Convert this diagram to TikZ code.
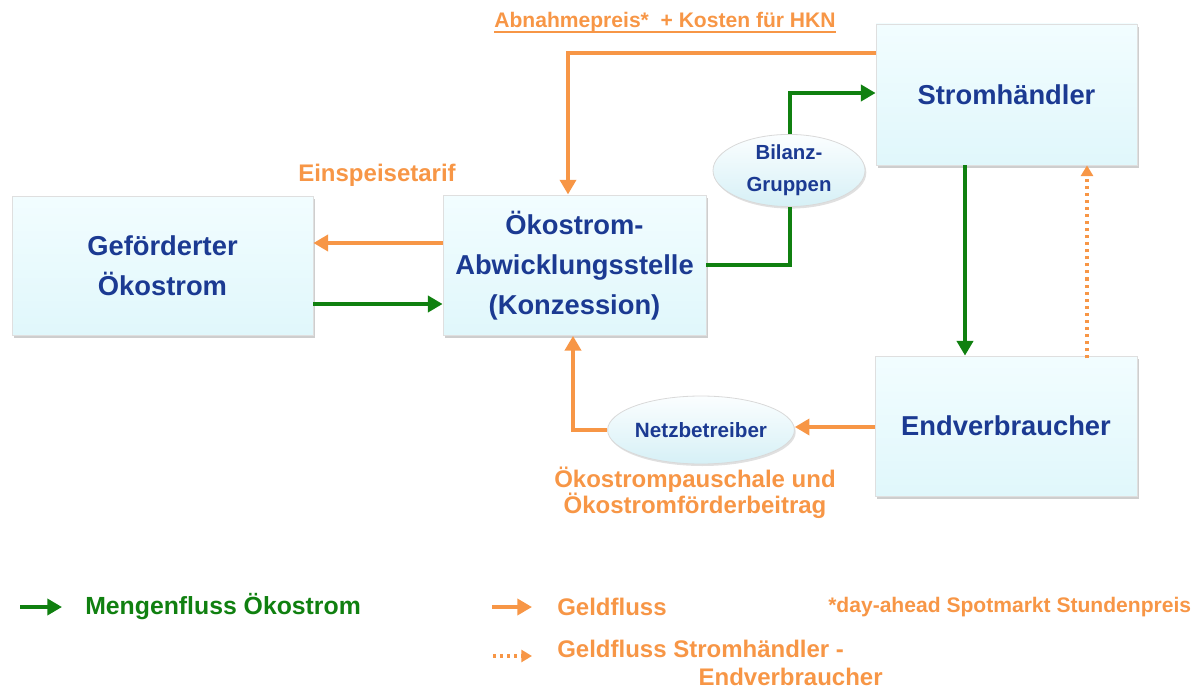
\documentclass[tikz,border=0pt]{standalone}
\usepackage{fontspec}
\setmainfont{Liberation Sans}
\usetikzlibrary{arrows.meta,shadows,shapes.geometric}
\definecolor{navy}{HTML}{1B3A92}
\definecolor{orng}{HTML}{F79646}
\definecolor{grn}{HTML}{108010}
\definecolor{boxtop}{HTML}{F2FDFF}
\definecolor{boxbot}{HTML}{E0F7FB}
\definecolor{elltop}{HTML}{FBFEFF}
\definecolor{ellbot}{HTML}{D6F0F6}
\begin{document}
\begin{tikzpicture}[x=0.75pt,y=-0.75pt,
  box/.style={rectangle, draw=gray!25, line width=0.6pt, top color=boxtop, bottom color=boxbot,
    drop shadow={shadow xshift=1.8pt, shadow yshift=-2.2pt, fill=gray!70, opacity=0.55},
    font=\bfseries\fontsize{20.5}{30}\selectfont, text=navy, align=center, inner sep=0pt},
  ell/.style={ellipse, draw=gray!30, line width=0.6pt, top color=elltop, bottom color=ellbot,
    drop shadow={shadow xshift=1pt, shadow yshift=-1.5pt, fill=gray!60, opacity=0.4},
    text=navy, align=center, inner sep=0pt},
  mflow/.style={draw=grn, line width=3.2pt, -{Triangle[length=11pt,width=12pt]}},
  gflow/.style={draw=orng, line width=3.2pt, -{Triangle[length=11pt,width=12pt]}},
  dflow/.style={draw=orng, line width=2.3pt, dash pattern=on 2.3pt off 3pt, -{Triangle[length=8pt,width=9pt]}},
  lbl/.style={text=orng, font=\bfseries\fontsize{18}{19.5}\selectfont, align=center, inner sep=0pt},
  leg/.style={font=\bfseries\fontsize{18}{21}\selectfont, align=left, inner sep=0pt, anchor=west}
]
\useasboundingbox (0,0) rectangle (1199,692);

% boxes
\node[box, minimum width=225.75pt, minimum height=104.25pt] (gef) at (162.5,265.5) {Geförderter\\ Ökostrom};
\node[box, minimum width=197.25pt, minimum height=105pt] (abw) at (574.5,265.5) {Ökostrom-\\Abwicklungsstelle\\(Konzession)};
\node[box, minimum width=195.75pt, minimum height=105.75pt] (sh) at (1006.5,94.5) {Stromhändler};
\node[box, minimum width=196.5pt, minimum height=105pt] (ev) at (1006,426) {Endverbraucher};

% ellipses
\node[ell, minimum width=114pt, minimum height=53pt, font=\bfseries\fontsize{15.3}{24}\selectfont] (bil) at (789,170.5) {Bilanz-\\Gruppen};
\node[ell, minimum width=115pt, minimum height=51pt, font=\bfseries\fontsize{15.5}{18}\selectfont] (netz) at (701,430) {Netzbetreiber};

% bend coordinates
\coordinate (c1) at (568,53);
\coordinate (c2) at (790,93);
\coordinate (c3) at (790,265);
\coordinate (c4) at (573,429);
\coordinate (c5) at (0,243);
\coordinate (c6) at (0,304);
\coordinate (c7) at (965,0);
\coordinate (c8) at (1087,0);
\coordinate (c9) at (0,427);

% connectors
\draw[gflow] (sh.west |- c1) -| ([yshift=0.5pt]abw.north -| c1);
\draw[mflow] (bil.north -| c2) |- (sh.west |- c2);
\draw[mflow, -] (abw.east |- c3) -| (bil.south -| c3);
\draw[gflow] (abw.west |- c5) -- (gef.east |- c5);
\draw[mflow] (gef.east |- c6) -- (abw.west |- c6);
\draw[mflow] (sh.south -| c7) -- (ev.north -| c7);
\draw[dflow] ([yshift=-2pt]ev.north -| c8) -- (sh.south -| c8);
\draw[gflow] (ev.west |- c9) -- (netz.east |- c9);
\draw[gflow] (netz.west) -| (abw.south -| c4);

% labels
\node[lbl, font=\bfseries\fontsize{15.8}{18}\selectfont, anchor=base] (abn) at (665,28) {Abnahmepreis*\ \ + Kosten für HKN};
\coordinate (ul) at (0,32);
\draw[orng, line width=1.4pt] (abn.west |- ul) -- (abn.east |- ul);
\node[lbl] (ein) at (377,175) {Einspeisetarif};
\node[lbl] (pau) at (695,493) {Ökostrompauschale und\\Ökostromförderbeitrag};

% legend
\coordinate (l1a) at (20,607);
\coordinate (l1b) at (62,607);
\draw[mflow] (l1a) -- (l1b);
\node[leg, text=grn, font=\bfseries\fontsize{18.6}{21}\selectfont] (lm) at (85,607) {Mengenfluss Ökostrom};
\coordinate (l2a) at (492,607);
\coordinate (l2b) at (532,607);
\draw[gflow] (l2a) -- (l2b);
\node[leg, text=orng] (lg) at (557,607) {Geldfluss};
\coordinate (l3a) at (493,656);
\coordinate (l3b) at (532,656);
\draw[dflow] (l3a) -- (l3b);
\node[leg, text=orng, anchor=north west] (ld) at (557,640) {Geldfluss Stromhändler -\\\hspace*{106pt}Endverbraucher};
\node[leg, text=orng, font=\bfseries\fontsize{15.8}{18}\selectfont] (lstar) at (828,607) {*day-ahead Spotmarkt Stundenpreis};
\end{tikzpicture}
\end{document}
